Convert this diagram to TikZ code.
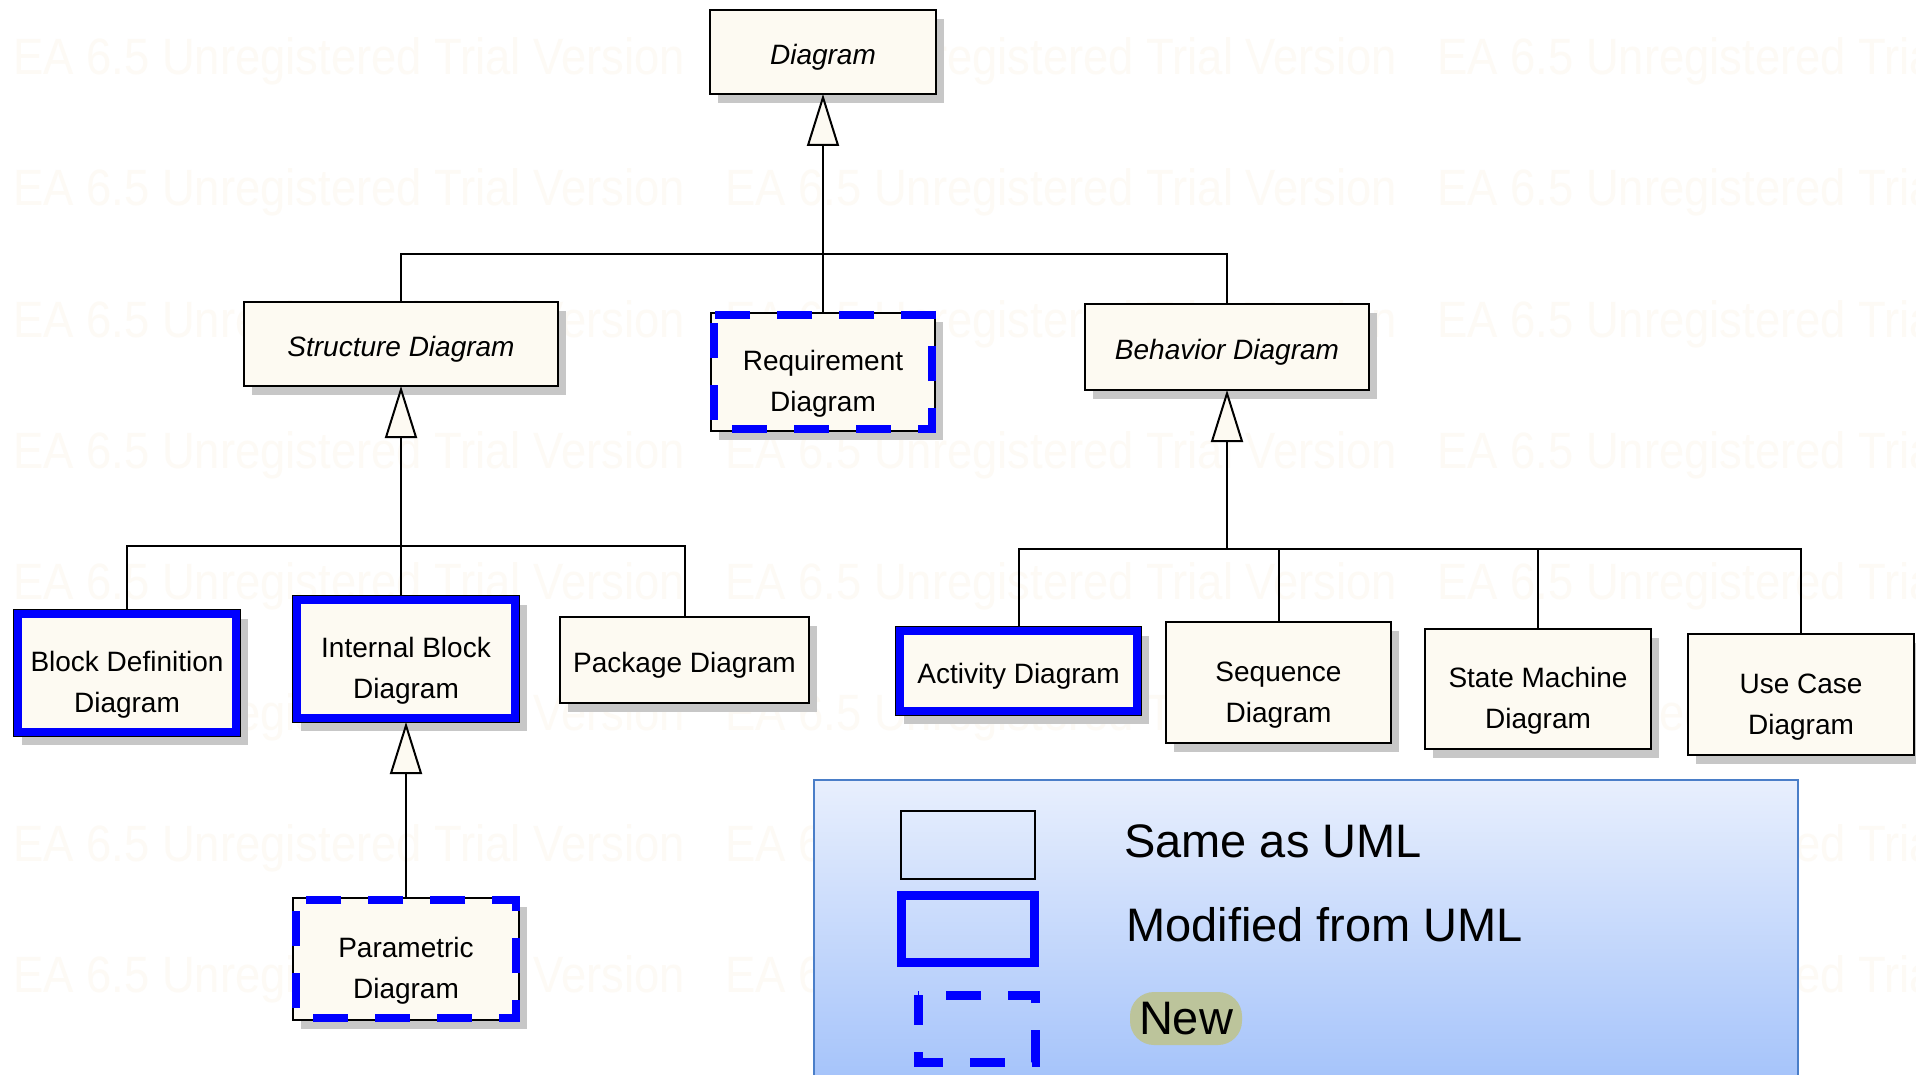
\documentclass[tikz,border=0pt]{standalone}
\usepackage{fontspec}
\setmainfont{Liberation Sans}
\newfontfamily\wmfont[FakeStretch=0.89]{Liberation Sans}
\usetikzlibrary{arrows.meta,shadows}

\definecolor{boxfill}{RGB}{253,250,242}
\definecolor{umlblue}{RGB}{0,0,255}
\definecolor{legtop}{RGB}{232,239,253}
\definecolor{legbot}{RGB}{163,194,250}
\definecolor{legedge}{RGB}{74,126,200}
\definecolor{newtag}{RGB}{188,196,155}
\definecolor{wmark}{RGB}{253,250,245}

\begin{document}
\begin{tikzpicture}[x=1pt,y=-1pt,
  umlbox/.style={draw=black, line width=2pt, fill=boxfill, inner sep=0pt, outer sep=0pt,
    align=center, font=\fontsize{28}{41}\selectfont, text height=79pt, text depth=0pt,
    drop shadow={shadow xshift=8pt, shadow yshift=-9pt, fill=black!22, opacity=1}},
  onelinebox/.style={umlbox, text height=25pt},
  abstractbox/.style={onelinebox, font=\fontsize{28}{41}\selectfont\itshape},
  modline/.style={draw=umlblue, line width=8pt},
  newline/.style={draw=umlblue, line width=8pt, dash pattern=on 35pt off 27pt},
  gen/.style={draw=black, line width=2pt, -{Triangle[length=52pt,width=32pt,fill=boxfill]}},
  tree/.style={draw=black, line width=2pt},
  wm/.style={anchor=base west, inner sep=0pt, text=wmark, font=\wmfont\fontsize{51}{51}\selectfont},
  legtext/.style={anchor=base west, inner sep=0pt, font=\fontsize{47}{56}\selectfont}
]
\useasboundingbox (0,0) rectangle (1916,1075);
\clip (0,0) rectangle (1916,1075);
\fill[white] (0,0) rectangle (1916,1075);

% faint background watermark
\foreach \r in {0,...,7}{
  \foreach \c in {0,1,2}{
    \node[wm] (wm-\r-\c) at ({13+712*\c},{75+131*\r}) {EA 6.5 Unregistered Trial Version};
  }
}

% diagram boxes
\node[abstractbox, minimum width=226pt, minimum height=84pt] (diagram) at (823,52) {Diagram};
\node[abstractbox, minimum width=314pt, minimum height=84pt] (structure) at (401,344) {Structure Diagram};
\node[umlbox, minimum width=224pt, minimum height=118pt] (requirement) at (823,372) {Requirement\\Diagram};
\node[abstractbox, minimum width=284pt, minimum height=86pt] (behavior) at (1227,347) {Behavior Diagram};

\node[umlbox, minimum width=226pt, minimum height=126pt] (bdd) at (127,673) {Block Definition\\Diagram};
\node[umlbox, minimum width=226pt, minimum height=126pt] (ibd) at (406,659) {Internal Block\\Diagram};
\node[onelinebox, minimum width=249pt, minimum height=86pt] (pkg) at (684.5,660) {Package Diagram};
\node[umlbox, minimum width=226pt, minimum height=122pt] (param) at (406,959) {Parametric\\Diagram};

\node[onelinebox, minimum width=245pt, minimum height=88pt] (act) at (1018.5,671) {Activity Diagram};
\node[umlbox, minimum width=225pt, minimum height=121pt] (seq) at (1278.5,682.5) {Sequence\\Diagram};
\node[umlbox, minimum width=226pt, minimum height=120pt] (stm) at (1538,689) {State Machine\\Diagram};
\node[umlbox, minimum width=226pt, minimum height=121pt] (uc) at (1801,694.5) {Use Case\\Diagram};

% modified-from-UML frames
\draw[modline] ([shift={(4,4)}]bdd.north west) rectangle ([shift={(-4,-4)}]bdd.south east);
\draw[modline] ([shift={(4,4)}]ibd.north west) rectangle ([shift={(-4,-4)}]ibd.south east);
\draw[modline] ([shift={(4,4)}]act.north west) rectangle ([shift={(-4,-4)}]act.south east);

% new-in-SysML frames
\draw[newline, dash phase=54pt] ([shift={(3,2)}]requirement.north west) rectangle ([shift={(-3,-2)}]requirement.south east);
\draw[newline, dash phase=51pt] ([shift={(3,2)}]param.north west) rectangle ([shift={(-3,-2)}]param.south east);

% generalization tree
\coordinate (tbar) at (823,254);
\draw[tree] (structure.north) |- (tbar) -| (behavior.north);
\draw[gen] (requirement.north) -- (diagram.south);

\coordinate (sbar) at (401,546);
\draw[tree] (bdd.north) |- (sbar) -| (pkg.north);
\draw[tree] (ibd.north -| sbar) -- (sbar);
\draw[gen] (sbar) -- (structure.south);
\draw[gen] (param.north) -- (ibd.south);

\coordinate (bbar) at (1227,549);
\draw[tree] (act.north) |- (bbar) -| (uc.north);
\draw[tree] (seq.north) -- (seq.north |- bbar);
\draw[tree] (stm.north) -- (stm.north |- bbar);
\draw[gen] (bbar) -- (behavior.south);

% legend
\shade[top color=legtop, bottom color=legbot] (814,780) rectangle (1798,1090);
\draw[legedge, line width=2.5pt] (814,1090) -- (814,780) -- (1798,780) -- (1798,1090);

\node[draw=black, line width=1.5pt, inner sep=0pt, minimum width=134pt, minimum height=68pt] (legsame) at (968,845) {};
\node[draw=umlblue, line width=9pt, inner sep=0pt, minimum width=133pt, minimum height=67pt] (legmod) at (968,928.5) {};
\coordinate (legnewa) at (918,995);
\coordinate (legnewb) at (1035,1062);
\draw[newline, line width=9pt, dash phase=5pt] (legnewa) rectangle (legnewb);

\node[legtext] (legsametext) at (1124,857) {Same as UML};
\node[legtext] (legmodtext) at (1126,941) {Modified from UML};
\node[fill=newtag, rounded corners=24pt, inner sep=0pt, minimum width=112pt, minimum height=53pt,
  font=\fontsize{47}{56}\selectfont] (legnewtext) at (1186,1018.5) {New};
\end{tikzpicture}
\end{document}
